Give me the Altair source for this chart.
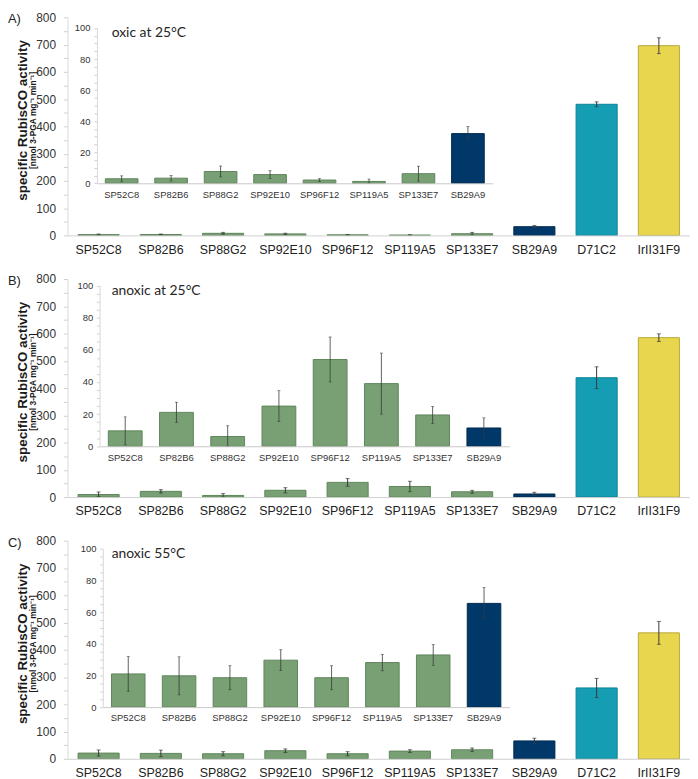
import altair as alt
import pandas as pd

# ---------------- data ----------------
categories = ["SP52C8", "SP82B6", "SP88G2", "SP92E10", "SP96F12",
              "SP119A5", "SP133E7", "SB29A9", "D71C2", "IrII31F9"]
inset_categories = categories[:8]

oxic_25_mean = [2.9, 3.3, 7.6, 5.6, 2.1, 1.2, 6.2, 32.0, 481, 696]
oxic_25_err = [1.9, 1.8, 3.5, 2.5, 0.9, 1.5, 4.8, 4.6, 9, 29]

anoxic_25_mean = [9.6, 21.1, 6.1, 25.0, 54.0, 39.0, 19.5, 11.4, 438, 585]
anoxic_25_err = [8.7, 6.3, 6.7, 9.6, 14.0, 19.0, 5.3, 6.3, 40, 14]

anoxic_55_mean = [21.0, 19.8, 18.6, 29.7, 18.6, 28.2, 33.0, 65.6, 260, 462]
anoxic_55_err = [11.0, 12.0, 7.6, 6.6, 7.6, 5.2, 6.6, 10.0, 35, 42]

panel_letters = ["A)", "B)", "C)"]
panel_titles = ["oxic at 25°C", "anoxic at 25°C", "anoxic 55°C"]

main_ticks = list(range(0, 801, 50))
inset_ticks = list(range(0, 101, 5))

y_title = "specific RubisCO activity"
y_subtitle = "[nmol 3-PGA mg\u207b\u00b9 min\u207b\u00b9]"

bar_colors = ["#78a074"] * 7 + ["#00386a", "#149db3", "#e8d64f"]
bar_strokes = ["#5e875a"] * 7 + ["#002a50", "#0e8498", "#b8a83a"]

# ---------------- layout ----------------
W, H = 628, 220
FONT = "Liberation Sans"

# inset placement as fractions of the plot area (x from left, y from top)
layouts = [
    dict(x0=0.0473, x1=0.683, y0=0.761, y100=0.049, gl=0.006, gt=0.009, gr=0.702, gd=0.789, tx=0.071, ty=0.071),
    dict(x0=0.0516, x1=0.710, y0=0.767, y100=0.030, gl=0.006, gt=0.0, gr=0.721, gd=0.795, tx=0.071, ty=0.054),
    dict(x0=0.0568, x1=0.710, y0=0.763, y100=0.038, gl=0.006, gt=0.0, gr=0.718, gd=0.805, tx=0.071, ty=0.061),
]


def panel(i, means, errs):
    lay = layouts[i]
    df = pd.DataFrame({"cat": categories, "v": means, "e": errs})
    df["lo"] = (df["v"] - df["e"]).clip(lower=0)
    df["hi"] = df["v"] + df["e"]
    dfi = df.iloc[:8].copy()

    color = alt.Color("cat:N", scale=alt.Scale(domain=categories, range=bar_colors), legend=None)
    stroke = alt.Stroke("cat:N", scale=alt.Scale(domain=categories, range=bar_strokes), legend=None)

    # grey zoom background (fractions of plot area)
    grey_df = pd.DataFrame({
        "gx": [lay["gl"], lay["gr"] - 0.0005, lay["gr"], lay["gd"]],
        "gy": [1 - lay["gt"], 1 - lay["gt"], 1 - lay["y0"], 0.0],
    })
    grey = alt.Chart(grey_df).mark_area(color="#f2f2f2", interpolate="linear").encode(
        x=alt.X("gx:Q", scale=alt.Scale(domain=[0, 1], nice=False, zero=False), axis=None),
        y=alt.Y("gy:Q", scale=alt.Scale(domain=[0, 1], nice=False), axis=None),
        order=alt.Order("gx:Q"),
    )

    # main chart
    x_main = alt.X(
        "cat:N", sort=categories,
        scale=alt.Scale(domain=categories, paddingInner=0.34, paddingOuter=0.17),
        axis=alt.Axis(title=None, labelAngle=0, labelFont=FONT, labelFontSize=12.5,
                      labelColor="#222222", domainColor="#d0d0d0", ticks=False, tickSize=0,
                      labelPadding=8, zindex=1),
    )
    main_axis = alt.Axis(title=None, values=main_ticks,
                         labelExpr="datum.value % 100 == 0 ? datum.label : ''",
                         labelOverlap=False,
                         tickSize=4, tickColor="#d0d0d0", domainColor="#d9d9d9", grid=False,
                         labelFont=FONT, labelFontSize=12, labelColor="#333333",
                         labelPadding=8, zindex=1)
    y_main = alt.Y("v:Q", scale=alt.Scale(domain=[0, 800], nice=False), axis=main_axis)
    mb = alt.Chart(df)
    main = alt.layer(
        mb.mark_bar(strokeWidth=1).encode(x=x_main, y=y_main, color=color, stroke=stroke),
        mb.mark_rule(color="#3a3a3a", strokeWidth=1).encode(
            x=alt.X("cat:N", sort=categories), y=alt.Y("lo:Q", axis=main_axis), y2="hi:Q"),
        mb.mark_tick(color="#3a3a3a", thickness=1, size=4).encode(
            x=alt.X("cat:N", sort=categories), y=alt.Y("hi:Q", axis=main_axis)),
        mb.mark_tick(color="#3a3a3a", thickness=1, size=4).encode(
            x=alt.X("cat:N", sort=categories), y=alt.Y("lo:Q", axis=main_axis)),
    )

    # inset chart
    x0px, x1px = lay["x0"] * W, lay["x1"] * W
    y0px, y100px = lay["y0"] * H, lay["y100"] * H
    x_in = alt.X(
        "cat:N", sort=inset_categories,
        scale=alt.Scale(domain=inset_categories, range=[x0px, x1px], paddingInner=0.34, paddingOuter=0.17),
        axis=alt.Axis(title=None, orient="bottom", offset=-(H - y0px), labelAngle=0,
                      labelFont=FONT, labelFontSize=9.5, labelColor="#333333",
                      domainColor="#c8c8c8", ticks=False, tickSize=0, labelPadding=6, zindex=1),
    )
    inset_axis = alt.Axis(title=None, orient="left", offset=-x0px, values=inset_ticks,
                          labelExpr="datum.value % 20 == 0 ? datum.label : ''",
                          labelOverlap=False,
                          tickSize=3, tickColor="#d0d0d0", domainColor="#d9d9d9", grid=False,
                          labelFont=FONT, labelFontSize=9.5, labelColor="#333333",
                          labelPadding=4, zindex=1)
    y_in = alt.Y("v:Q", scale=alt.Scale(domain=[0, 100], range=[y0px, y100px], nice=False),
                 axis=inset_axis)
    ib = alt.Chart(dfi)
    inset = alt.layer(
        ib.mark_bar(strokeWidth=1).encode(x=x_in, y=y_in, color=color, stroke=stroke),
        ib.mark_rule(color="#3a3a3a", strokeWidth=0.8).encode(
            x=alt.X("cat:N", sort=inset_categories), y=alt.Y("lo:Q", axis=inset_axis), y2="hi:Q"),
        ib.mark_tick(color="#3a3a3a", thickness=0.8, size=3).encode(
            x=alt.X("cat:N", sort=inset_categories), y=alt.Y("hi:Q", axis=inset_axis)),
        ib.mark_tick(color="#3a3a3a", thickness=0.8, size=3).encode(
            x=alt.X("cat:N", sort=inset_categories), y=alt.Y("lo:Q", axis=inset_axis)),
    )

    one = pd.DataFrame({"title": [panel_titles[i]], "letter": [panel_letters[i]],
                        "yt": [y_title], "ys": [y_subtitle]})
    tc = alt.Chart(one)
    title_txt = tc.mark_text(align="left", baseline="middle", font="Lato", fontSize=14,
                             color="#262626").encode(
        text="title:N", x=alt.value(lay["tx"] * W), y=alt.value(lay["ty"] * H))
    letter_txt = tc.mark_text(align="left", baseline="middle", font=FONT, fontSize=13,
                              color="#222222").encode(
        text="letter:N", x=alt.value(-60), y=alt.value(2))
    ytitle_txt = tc.mark_text(align="center", baseline="middle", font=FONT, fontSize=13.5,
                              fontWeight="bold", angle=270, color="#1a1a1a").encode(
        text="yt:N", x=alt.value(-45), y=alt.value(H / 2 - 6))
    ysub_txt = tc.mark_text(align="center", baseline="middle", font=FONT, fontSize=8.5,
                            fontWeight="bold", angle=270, color="#1a1a1a").encode(
        text="ys:N", x=alt.value(-35), y=alt.value(H / 2 - 6))

    return alt.layer(grey, main, inset, title_txt, letter_txt, ytitle_txt, ysub_txt).resolve_scale(
        x="independent", y="independent"
    ).properties(width=W, height=H)


panels = [
    panel(0, oxic_25_mean, oxic_25_err),
    panel(1, anoxic_25_mean, anoxic_25_err),
    panel(2, anoxic_55_mean, anoxic_55_err),
]

chart = alt.vconcat(*panels, spacing=44, bounds="flush").properties(
    padding=0
).configure_view(stroke=None).configure_axis(labelOverlap=False)

chart.save("out.html", embed_options={"renderer": "svg", "actions": False})
